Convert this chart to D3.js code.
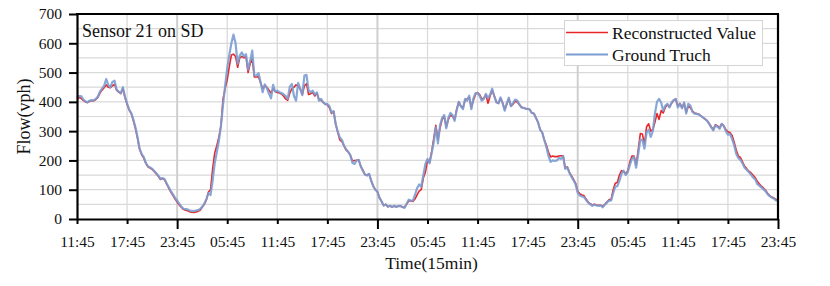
<!DOCTYPE html>
<html><head><meta charset="utf-8">
<script src="https://cdn.jsdelivr.net/npm/d3@7"></script>
<style>body{margin:0;background:#fff}svg{display:block}</style>
</head><body><svg id="c" width="830" height="286"></svg>
<script>
const tickLabels = ["11:45","17:45","23:45","05:45","11:45","17:45","23:45","05:45","11:45","17:45","23:45","05:45","11:45","17:45","23:45"];
const yTickValues = [0,100,200,300,400,500,600,700];
const seriesNames = ["Reconstructed Value","Ground Truch"];
const titleText = "Sensor 21 on SD";

const groundTruth = [
415,420,420,408,402,398,404,406,405,410,
418,435,445,455,478,458,450,468,472,442,
435,430,450,418,395,374,362,340,313,280,
240,222,211,192,180,176,172,164,156,148,
137,140,136,121,108,95,84,72,63,52,
43,35,34,33,29,28,27,29,30,34,
42,52,68,88,82,130,190,228,267,318,
390,455,515,560,600,630,600,530,558,569,
555,563,510,540,575,490,490,498,467,433,
460,447,428,412,458,435,438,433,430,426,
420,410,452,461,420,404,465,444,423,490,
492,440,433,438,425,432,404,410,398,392,
393,385,364,368,324,298,278,270,250,238,
229,218,192,188,200,202,180,165,152,148,
154,131,112,100,93,72,60,46,50,42,
45,41,45,41,44,45,41,38,52,66,
63,63,82,105,118,110,150,188,205,190,
225,262,313,258,320,345,355,310,345,362,
355,335,372,400,385,375,410,404,421,375,
412,430,430,420,404,410,427,412,425,445,
420,398,395,415,396,370,395,414,385,396,
408,405,392,381,379,377,376,374,362,360,
345,330,305,295,270,245,215,195,200,198,
200,208,205,215,171,176,158,144,132,118,
90,80,77,75,65,56,50,45,49,46,
45,46,40,49,56,63,63,88,110,112,
130,155,165,150,160,185,205,211,175,222,
270,270,240,295,305,280,300,360,400,410,
398,370,387,393,381,398,406,410,381,393,
378,398,360,393,387,366,360,359,357,352,
347,341,336,325,313,303,320,315,308,325,
318,300,288,290,273,252,222,208,202,190,
175,168,160,152,142,136,120,114,108,102,
95,85,78,73,70,63,64
];

const reconstructed = [
408,415,412,405,400,398,402,404,404,408,
415,430,440,448,458,450,448,455,460,440,
433,428,445,415,392,372,360,336,310,276,
238,220,208,190,178,174,170,162,154,146,
135,138,134,119,105,92,80,68,58,48,
40,33,30,28,25,23,22,24,26,30,
40,50,65,92,100,170,225,250,279,318,
410,445,475,520,560,563,555,518,550,555,
550,555,500,530,546,485,485,486,465,445,
455,450,440,430,445,435,432,430,427,420,
410,405,430,445,450,458,455,445,425,455,
462,425,428,432,420,430,408,405,398,392,
390,380,360,368,324,295,270,264,250,235,
229,218,198,200,200,202,180,168,152,150,
154,131,112,100,93,72,60,46,50,42,
45,41,44,42,44,44,40,40,50,62,
62,60,68,82,95,100,140,160,200,195,
230,275,320,270,310,340,350,315,340,355,
350,340,375,400,385,380,405,410,415,380,
405,425,432,425,410,412,425,395,420,440,
420,400,395,412,396,375,392,410,385,392,
402,400,390,382,380,377,376,374,362,360,
345,330,305,295,270,252,228,212,215,213,
213,215,216,216,175,178,160,148,135,122,
95,86,82,80,68,58,52,48,50,48,
47,47,44,50,58,66,66,100,122,125,
150,165,162,155,165,195,215,215,185,235,
292,290,255,315,325,300,305,330,360,340,
370,362,382,390,383,395,405,410,385,395,
380,395,365,385,380,368,362,360,358,352,
347,342,336,326,315,305,322,318,310,325,
318,305,298,295,285,262,235,215,210,195,
180,172,163,158,150,142,130,120,112,106,
98,88,80,75,72,66,66
];

const svg = d3.select("#c");
const L = 77, R = 778, T = 14, B = 219;
const FONT = "'Liberation Serif','Times New Roman',serif";
const nSteps = 336;
const x = d3.scaleLinear().domain([0, nSteps]).range([L, R]);
const y = d3.scaleLinear().domain([0, 700]).range([B, T]);
const tickIdx = tickLabels.map((d, i) => i * 24);

// grid
svg.append("g").selectAll("line").data(d3.range(50, 700, 50)).join("line")
  .attr("x1", L).attr("x2", R).attr("y1", d => y(d)).attr("y2", d => y(d))
  .attr("stroke", "#d9d9d9").attr("stroke-width", 1.2);
svg.append("g").selectAll("line").data(tickIdx.slice(1, -1)).join("line")
  .attr("x1", d => x(d)).attr("x2", d => x(d)).attr("y1", T).attr("y2", B)
  .attr("stroke", (d, i) => tickLabels[i + 1] === "23:45" ? "#cfcfcf" : "#dadada")
  .attr("stroke-width", (d, i) => tickLabels[i + 1] === "23:45" ? 2 : 1.3);

// lines
const line = d3.line().x((d, i) => x(i)).y(d => y(d));
svg.append("path").datum(reconstructed).attr("d", line)
  .attr("fill", "none").attr("stroke", "#e8262a").attr("stroke-width", 1.6)
  .attr("stroke-linejoin", "round");
svg.append("path").datum(groundTruth).attr("d", line)
  .attr("fill", "none").attr("stroke", "#7b9dd2").attr("stroke-width", 2.2)
  .attr("stroke-opacity", 0.9).attr("stroke-linejoin", "round");

// axes
const xAxis = svg.append("g").attr("transform", `translate(0,${B})`)
  .call(d3.axisBottom(x).tickValues(tickIdx).tickFormat((d, i) => tickLabels[i]).tickSize(5).tickPadding(11.5).tickSizeOuter(0));
xAxis.selectAll(".tick line").attr("stroke", "#000").attr("stroke-width", 2)
  .attr("y2", (d, i) => tickLabels[i] === "23:45" ? 10 : 5);
xAxis.selectAll("text").attr("font-family", FONT).attr("font-size", 15.5).attr("fill", "#111");
xAxis.select(".domain").attr("stroke-width", 2.2);

const yAxis = svg.append("g").attr("transform", `translate(${L},0)`)
  .call(d3.axisLeft(y).tickValues(yTickValues).tickSize(8).tickPadding(7).tickSizeOuter(0));
yAxis.selectAll(".tick line").attr("stroke-width", 2);
yAxis.selectAll("text").attr("font-family", FONT).attr("font-size", 15.5).attr("fill", "#111");
yAxis.select(".domain").attr("stroke-width", 2.2);

// frame top/right
svg.append("line").attr("x1", L - 1).attr("x2", R + 1).attr("y1", T).attr("y2", T).attr("stroke", "#000").attr("stroke-width", 2.2);
svg.append("line").attr("x1", R).attr("x2", R).attr("y1", T).attr("y2", B).attr("stroke", "#000").attr("stroke-width", 2.2);

// title inside
svg.append("text").attr("x", 82).attr("y", 37).attr("font-family", FONT).attr("font-size", 18).attr("fill", "#111").text(titleText);

// axis titles
svg.append("text").attr("x", (L + R) / 2 + 4).attr("y", 268.5).attr("text-anchor", "middle")
  .attr("font-family", FONT).attr("font-size", 17.5).attr("fill", "#111").text("Time(15min)");
svg.append("text").attr("transform", `translate(30,${(T + B) / 2}) rotate(-90)`).attr("text-anchor", "middle")
  .attr("font-family", FONT).attr("font-size", 18).attr("fill", "#111").text("Flow(vph)");

// legend
const lg = svg.append("g");
lg.append("rect").attr("x", 564.5).attr("y", 20.5).attr("width", 198).attr("height", 45)
  .attr("fill", "#fff").attr("stroke", "#d4d4d4").attr("stroke-width", 1);
const colors = ["#e8262a", "#7b9dd2"];
seriesNames.forEach((nm, i) => {
  const yy = 32.5 + i * 22;
  lg.append("line").attr("x1", 566).attr("x2", 608).attr("y1", yy).attr("y2", yy)
    .attr("stroke", colors[i]).attr("stroke-width", i ? 2 : 1.6);
  lg.append("text").attr("x", 612).attr("y", yy + 6).attr("font-family", FONT).attr("font-size", 17.5)
    .attr("fill", "#111").text(nm);
});
</script></body></html>
